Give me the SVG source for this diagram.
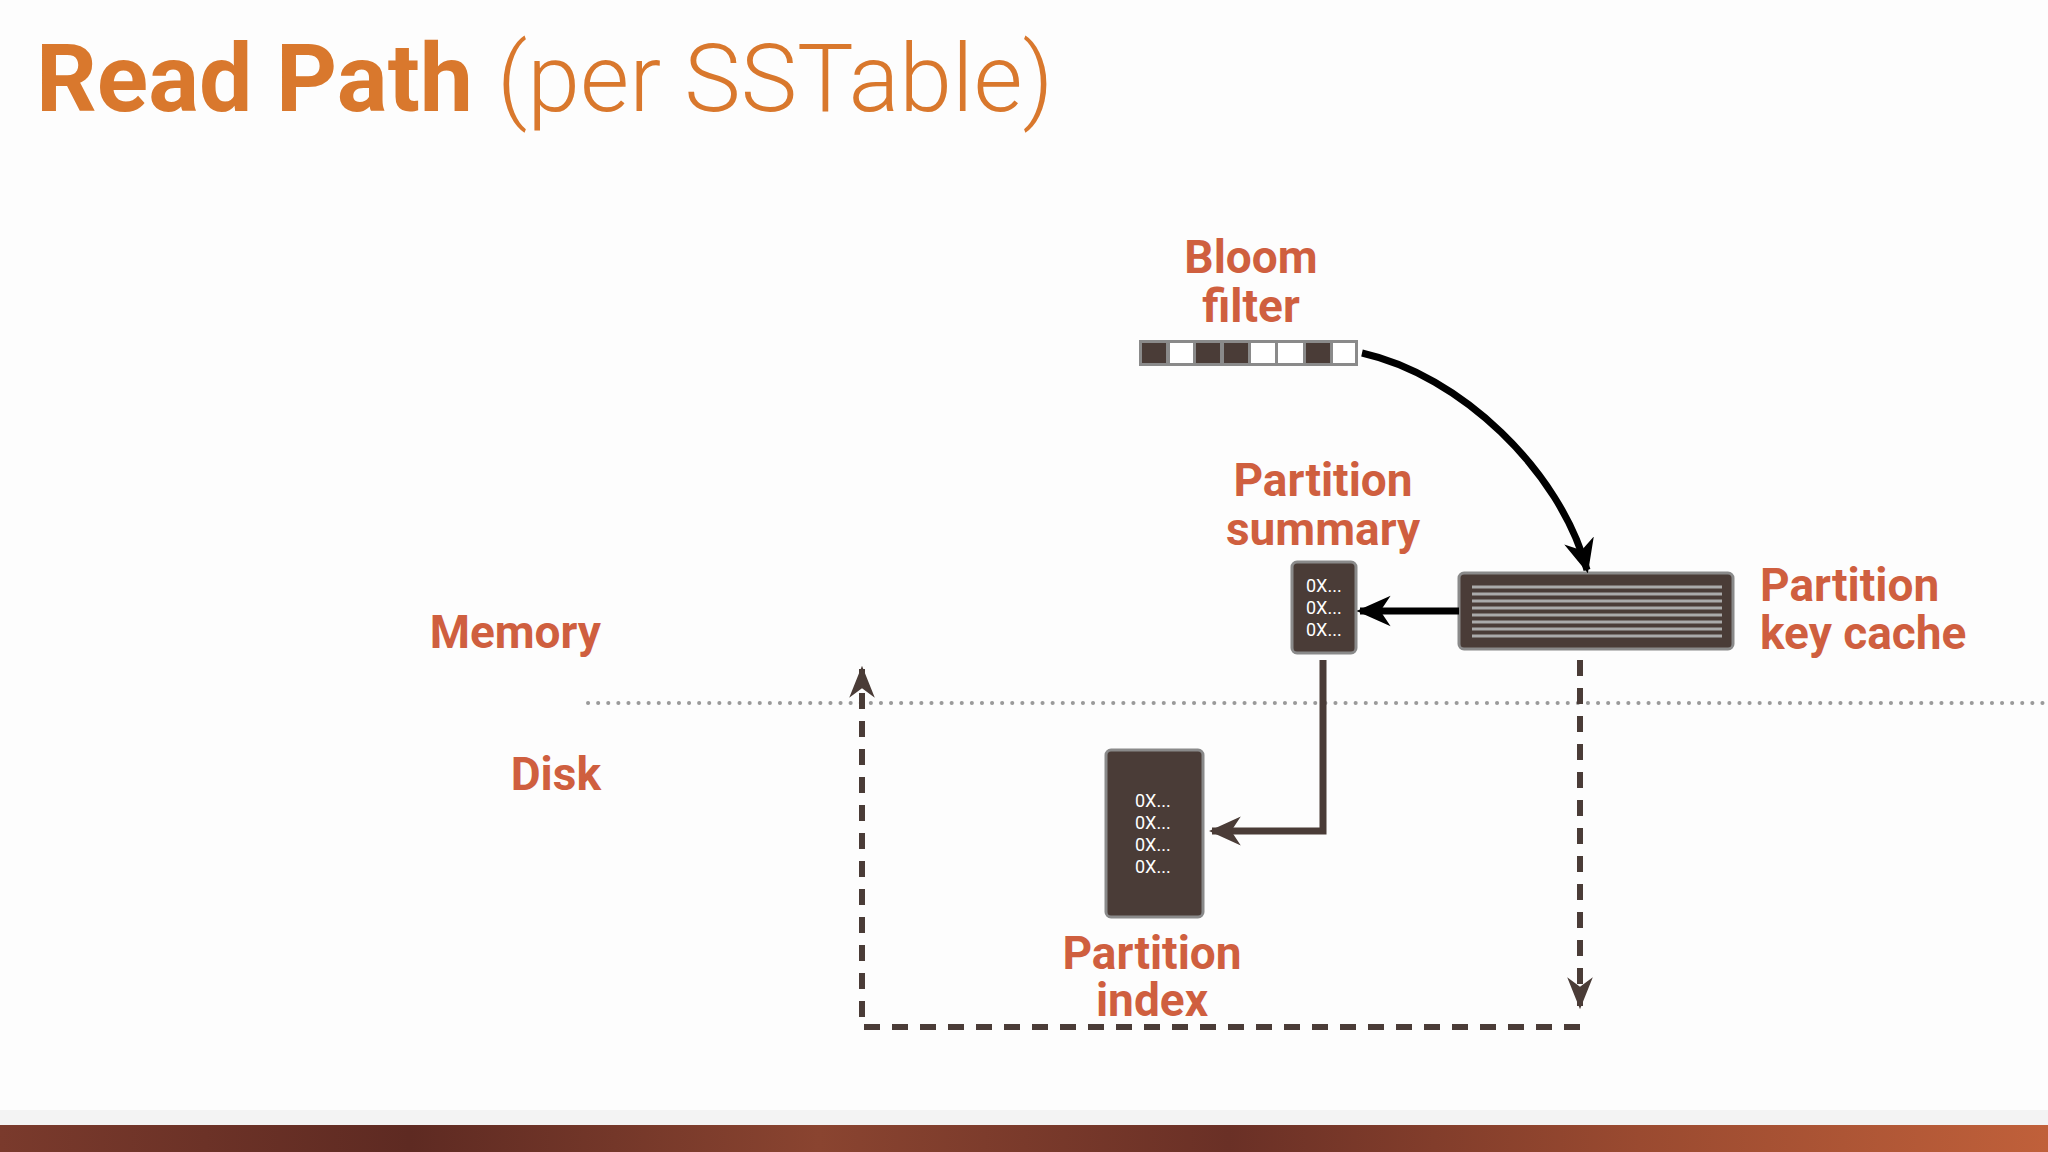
<svg xmlns="http://www.w3.org/2000/svg" width="2048" height="1152" viewBox="0 0 2048 1152">
<defs>
<style>
.lbl{font-family:Roboto,"Liberation Sans",sans-serif;font-weight:bold;font-size:46px;fill:#cf5f3f}
.hex{font-family:Roboto,"Liberation Sans",sans-serif;font-size:18px;fill:#ffffff}
.box{fill:#4a3c37;stroke:#8a8a8a;stroke-width:3}
.dash{fill:none;stroke:#4a3c37;stroke-width:6;stroke-dasharray:16 12}
</style>
<marker id="ah" viewBox="0 0 10 10" refX="9" refY="5" markerWidth="34" markerHeight="34" orient="auto" markerUnits="userSpaceOnUse"><path d="M0,0.5 L10,5 L0,9.5 L3,5 z" fill="#000"/></marker>
<marker id="ahb" viewBox="0 0 10 10" refX="9" refY="5" markerWidth="32" markerHeight="32" orient="auto" markerUnits="userSpaceOnUse"><path d="M0,0.5 L10,5 L0,9.5 L3,5 z" fill="#4a3c37"/></marker>
<marker id="ahd" viewBox="0 0 10 10" refX="9" refY="5" markerWidth="32" markerHeight="32" orient="auto" markerUnits="userSpaceOnUse"><path d="M0,1 L10,5 L0,9 L3,5 z" fill="#4a3c37"/></marker>
<linearGradient id="wood" x1="0" y1="0" x2="1" y2="0">
<stop offset="0" stop-color="#7a3a2c"/><stop offset="0.2" stop-color="#5e2a22"/><stop offset="0.4" stop-color="#8a4430"/><stop offset="0.6" stop-color="#6a3026"/><stop offset="0.8" stop-color="#9a4a30"/><stop offset="1" stop-color="#c0603a"/>
</linearGradient>
</defs>
<rect width="2048" height="1152" fill="#fdfdfd"/>
<rect x="0" y="1110" width="2048" height="16" fill="#f3f3f3"/>
<rect x="0" y="1125" width="2048" height="27" fill="url(#wood)"/>
<text x="36" y="111" font-family="Roboto,'Liberation Sans',sans-serif" font-size="95" fill="#d9782d"><tspan font-weight="bold">Read Path</tspan><tspan font-weight="300" dx="24">(per SSTable)</tspan></text>

<g id="memory"><text class="lbl" x="601" y="648" text-anchor="end">Memory</text></g>
<g id="disk"><text class="lbl" x="601" y="790" text-anchor="end">Disk</text></g>
<line x1="588" y1="703" x2="2048" y2="703" stroke="#9a9a9a" stroke-width="4" stroke-dasharray="0.1 10" stroke-linecap="round"/>

<g id="bloom">
<text class="lbl" x="1251" y="273" text-anchor="middle">Bloom</text>
<text class="lbl" x="1251" y="322" text-anchor="middle">filter</text>
<rect x="1139" y="340" width="219" height="26" fill="#8a8a8a"/>
<g fill="#4a3c37"><rect x="1142" y="343" width="24" height="20"/><rect x="1196" y="343" width="24" height="20"/><rect x="1224" y="343" width="24" height="20"/><rect x="1306" y="343" width="24" height="20"/></g>
<g fill="#fff"><rect x="1170" y="343" width="23" height="20"/><rect x="1251" y="343" width="24" height="20"/><rect x="1278" y="343" width="25" height="20"/><rect x="1333" y="343" width="22" height="20"/></g>
</g>

<g id="summary">
<text class="lbl" x="1323" y="496" text-anchor="middle">Partition</text>
<text class="lbl" x="1323" y="545" text-anchor="middle">summary</text>
<rect class="box" x="1292" y="562" width="64" height="91" rx="5"/>
<text class="hex" x="1306" y="592">0X...</text><text class="hex" x="1306" y="614">0X...</text><text class="hex" x="1306" y="636">0X...</text>
</g>

<g id="keycache">
<rect class="box" x="1459" y="573" width="274" height="76" rx="5"/>
<g stroke="#aaaaaa" stroke-width="3">
<line x1="1472" y1="587" x2="1722" y2="587"/><line x1="1472" y1="594" x2="1722" y2="594"/><line x1="1472" y1="601" x2="1722" y2="601"/><line x1="1472" y1="608" x2="1722" y2="608"/><line x1="1472" y1="615" x2="1722" y2="615"/><line x1="1472" y1="622" x2="1722" y2="622"/><line x1="1472" y1="629" x2="1722" y2="629"/><line x1="1472" y1="636" x2="1722" y2="636"/>
</g>
<text class="lbl" x="1760" y="601">Partition</text>
<text class="lbl" x="1760" y="649">key cache</text>
</g>

<g id="index">
<rect class="box" x="1106" y="750" width="97" height="167" rx="5"/>
<text class="hex" x="1135" y="807">0X...</text><text class="hex" x="1135" y="829">0X...</text><text class="hex" x="1135" y="851">0X...</text><text class="hex" x="1135" y="873">0X...</text>
<text class="lbl" x="1152" y="969" text-anchor="middle">Partition</text>
<text class="lbl" x="1152" y="1016" text-anchor="middle">index</text>
</g>

<g id="connectors">
<path d="M1362,353 C1460,375 1560,470 1587,570" fill="none" stroke="#000" stroke-width="7" marker-end="url(#ah)"/>
<line x1="1459" y1="611" x2="1360" y2="611" stroke="#000" stroke-width="7" marker-end="url(#ah)"/>
<path d="M1323,660 V831 H1212" fill="none" stroke="#4a3c37" stroke-width="7" marker-end="url(#ahb)"/>
<path class="dash" d="M1580,660 V1006" marker-end="url(#ahd)"/>
<path class="dash" d="M1580,1027 H862 V669" marker-end="url(#ahd)"/>
</g>
</svg>
